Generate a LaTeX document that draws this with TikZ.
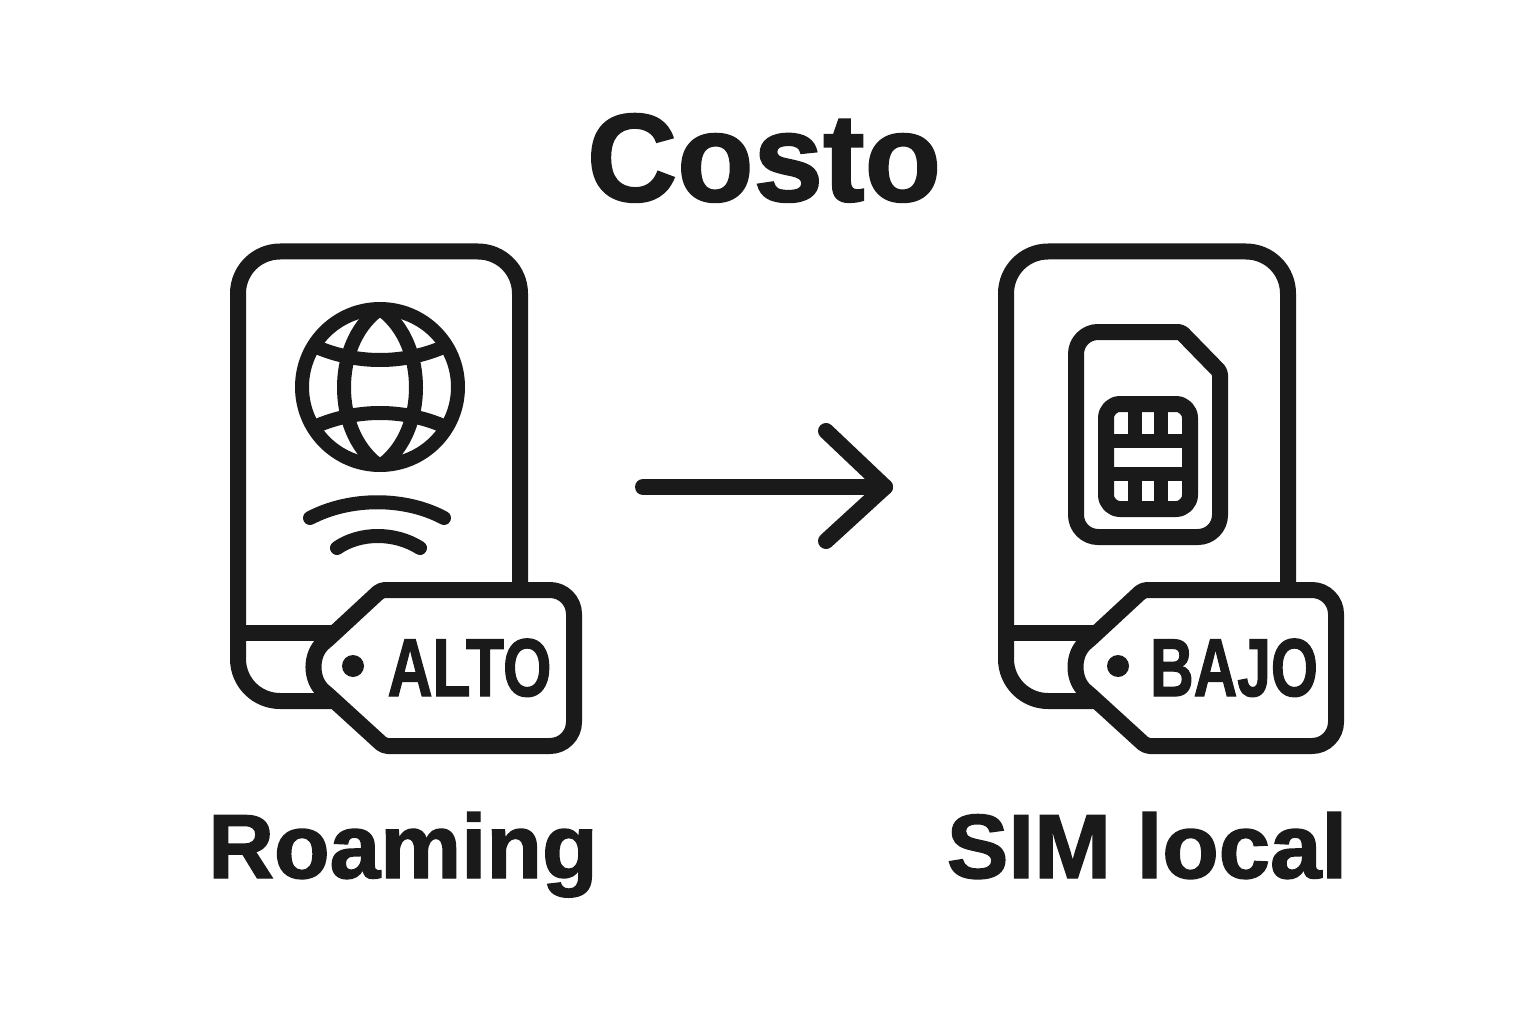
\documentclass[tikz,border=0pt]{standalone}
\usepackage{fontspec}
\setmainfont[BoldFeatures={FakeBold=1.6}]{Liberation Sans}
\definecolor{ink}{HTML}{1A1A1A}
\tikzset{
  icon/.style={line width=16pt, line join=round, draw=ink},
  thin icon/.style={line width=14pt, line join=round, line cap=round, draw=ink},
  title/.style={anchor=base, inner sep=0pt, font=\bfseries\fontsize{125}{125}\selectfont, text=ink},
  caption/.style={anchor=base, inner sep=0pt, font=\bfseries\fontsize{91}{91}\selectfont, text=ink},
  price/.style={anchor=base, inner sep=0pt, xscale=0.76, transform shape, font=\bfseries\fontsize{82}{82}\selectfont, text=ink},
}
% #1 shift of the card, #2 shift of the tag, #3 shift of the hole
\newcommand{\simcard}[3]{
  \begin{scope}[xshift=#1pt]
    \draw[icon, rounded corners=42pt] (520,590) -- (520,251.5) -- (238,251.5) -- (238,701) -- (340,701);
    \draw[icon] (238,633) -- (340,633);
  \end{scope}
  \begin{scope}[xshift=#2pt]
    \draw[icon, fill=white] (460,590) [rounded corners=24pt] -- (574,590) -- (574,746) [rounded corners=4pt] -- (384,746) -- (327,694) .. controls (310,680) and (310,654) .. (327,640) -- (381,590) -- cycle;
  \end{scope}
  \fill[ink, xshift=#3pt] (353,666) circle (11pt);
}
\begin{document}
\begin{tikzpicture}[x=1pt,y=-1pt]
  \useasboundingbox (0,0) rectangle (1536,1024);
  \fill[white] (0,0) rectangle (1536,1024);
  \node[title] (costo) at (764,201) {Costo};
  % left card
  \simcard{0}{0}{0}
  \draw[thin icon] (380,387) circle (78);
  \draw[thin icon] (377,311) .. controls (333,345) and (333,430) .. (377,464);
  \draw[thin icon] (383,311) .. controls (427,345) and (427,430) .. (383,464);
  \draw[thin icon, line cap=butt] (312,345) .. controls (355,365) and (405,365) .. (448,345);
  \draw[thin icon, line cap=butt] (312,428) .. controls (355,408) and (405,408) .. (448,428);
  \draw[thin icon] (310,518) .. controls (350,497) and (405,497) .. (444,518);
  \draw[thin icon] (337,548) .. controls (360,532) and (395,532) .. (420,548);
  \node[price] (alto) at (469.5,696) {ALTO};
  % right card
  \simcard{768}{762}{765}
  \draw[icon] (1120,332) [rounded corners=22pt] -- (1076,332) -- (1076,537) -- (1220,537) [rounded corners=3pt] -- (1220,372) -- (1181,332) -- cycle;
  \draw[icon, rounded corners=14pt] (1150,404) -- (1106,404) -- (1106,509) -- (1190,509) -- (1190,404) -- cycle;
  \draw[icon, line width=14pt] (1106,441) -- (1190,441) (1106,474) -- (1190,474);
  \draw[icon, line width=14pt] (1135,404) -- (1135,441) (1161,404) -- (1161,441) (1135,474) -- (1135,509) (1161,474) -- (1161,509);
  \node[price, xscale=0.97] (bajo) at (1234,696) {BAJO};
  % arrow between
  \coordinate (from) at (643,487);
  \coordinate (to) at (885,487);
  \draw[thin icon, line width=16pt] (from) -- (to);
  \draw[thin icon, line width=16pt] (826,431) -- (to) -- (826,541);
  \node[caption] (roaming) at (403,878) {Roaming};
  \node[caption, xscale=1.015, transform shape] (sim) at (1147,878) {SIM local};
\end{tikzpicture}
\end{document}
